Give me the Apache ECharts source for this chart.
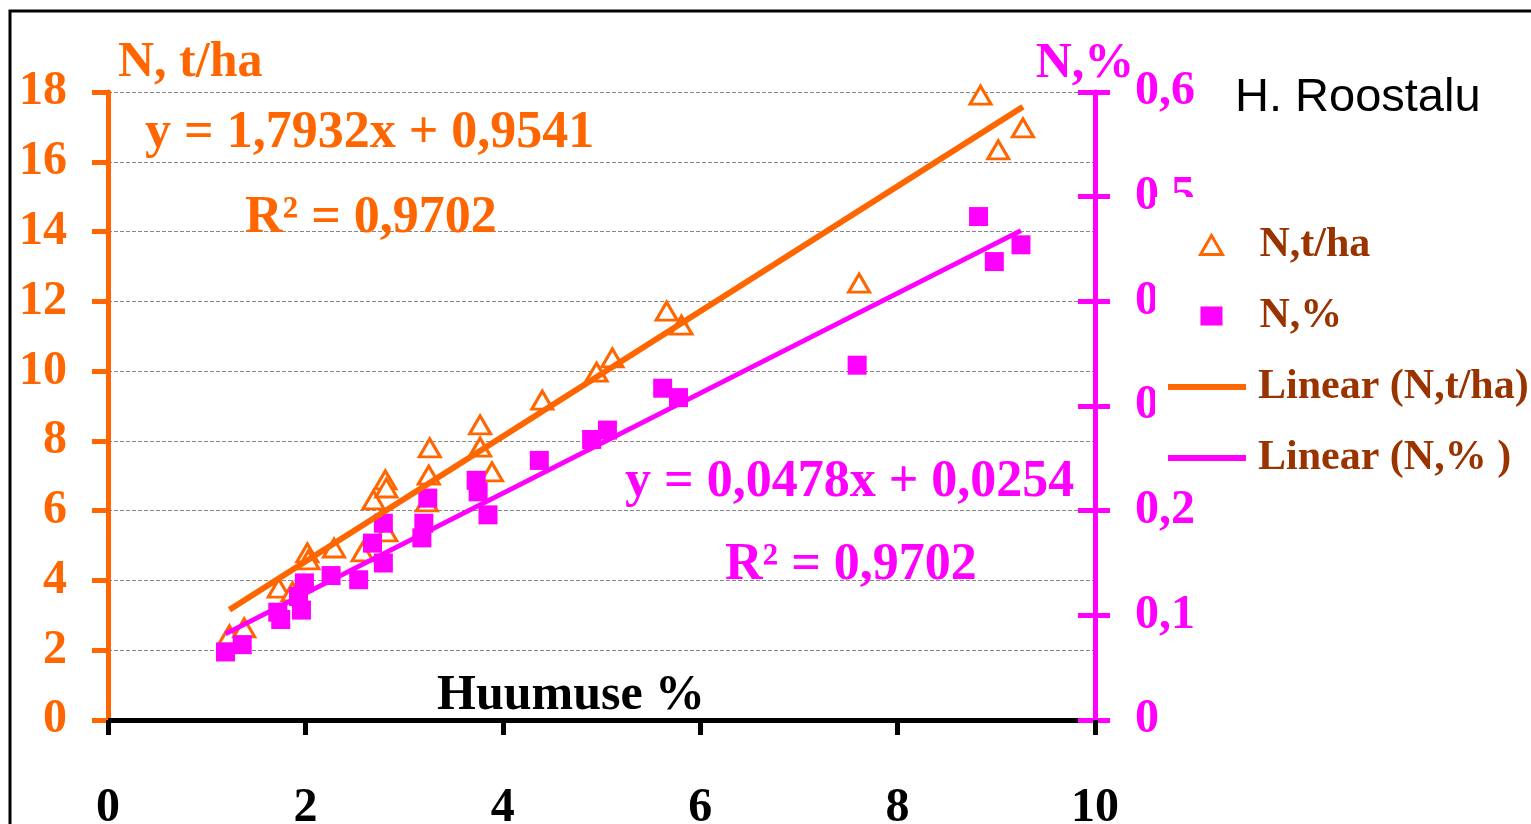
<!DOCTYPE html>
<html><head><meta charset="utf-8">
<script src="https://cdn.jsdelivr.net/npm/echarts@6/dist/echarts.min.js"></script>
<style>html,body{margin:0;padding:0;background:#fff}#c{width:1531px;height:824px}</style>
</head><body><div id="c"></div>
<script>
// Humus % (x) and N, t/ha (left axis) – triangles
const humusTha = [1.23,1.38,1.73,1.87,2.02,2.03,2.29,2.58,2.69,2.81,2.82,2.82,3.23,3.25,3.26,3.77,3.77,3.89,4.40,4.95,5.11,5.66,5.81,7.61,8.84,9.02,9.27];
const nTha     = [2.44,2.64,3.78,3.67,4.79,4.59,4.93,4.82,6.31,6.88,6.65,5.39,6.25,7.02,7.80,8.46,7.82,7.11,9.17,9.97,10.38,11.72,11.32,12.52,17.91,16.34,16.97];
// Humus % (x) and N, % (right axis) – squares
const humusPct = [1.19,1.36,1.72,1.75,1.93,1.96,1.99,2.26,2.54,2.68,2.79,2.79,3.18,3.20,3.24,3.73,3.75,3.85,4.37,4.90,5.06,5.62,5.78,7.59,8.82,8.98,9.25];
const nPct     = [0.065,0.072,0.103,0.096,0.118,0.105,0.131,0.138,0.134,0.169,0.188,0.150,0.174,0.188,0.212,0.229,0.218,0.196,0.248,0.268,0.277,0.317,0.308,0.339,0.481,0.438,0.454];
// Linear trend coefficients [slope, intercept]
const trendTha = [1.7932, 0.9541];
const trendPct = [0.0478, 0.0254];
const eqTha = ['y = 1,7932x + 0,9541', 'R² = 0,9702'];
const eqPct = ['y = 0,0478x + 0,0254', 'R² = 0,9702'];
const seriesNames = ['N,t/ha', 'N,%', 'Linear (N,t/ha)', 'Linear (N,% )'];
const axisNames = ['N, t/ha', 'N,%', 'Huumuse %'];
const author = 'H. Roostalu';
const xRange = [0, 10, 2];
const yLeftRange = [0, 18, 2];
const yRightRange = [0, 0.6, 0.1];

const ORANGE = '#FF6600', MAG = '#FF00FF', BROWN = '#993300';
const SERIF = '"Liberation Serif","Times New Roman",serif';
const SANS = '"Liberation Sans",Arial,sans-serif';

function trend(coef, xs) {
  const x0 = Math.min(...xs), x1 = Math.max(...xs);
  return [[x0, coef[0] * x0 + coef[1]], [x1, coef[0] * x1 + coef[1]]];
}
const pctFmt = v => (Math.abs(v) < 1e-9 ? '0' : v.toFixed(1).replace('.', ','));
const legendText = { color: BROWN, fontFamily: SERIF, fontWeight: 'bold', fontSize: 42, lineHeight: 44 };

const chart = echarts.init(document.getElementById('c'));
chart.setOption({
  animation: false,
  backgroundColor: '#fff',
  grid: { left: 108, right: 436, top: 92, bottom: 104, outerBoundsMode: 'none', containLabel: false },
  xAxis: {
    type: 'value', min: xRange[0], max: xRange[1], interval: xRange[2],
    axisLine: { lineStyle: { color: '#000', width: 5 } },
    axisTick: { length: 15, lineStyle: { color: '#000', width: 5 } },
    axisLabel: { margin: 65, color: '#000', fontSize: 48, fontWeight: 'bold', fontFamily: SERIF },
    splitLine: { show: false }
  },
  yAxis: [
    {
      type: 'value', position: 'left', min: yLeftRange[0], max: yLeftRange[1], interval: yLeftRange[2],
      name: axisNames[0], nameLocation: 'end', nameGap: 4, nameMoveOverlap: false,
      nameTextStyle: { color: ORANGE, fontSize: 50, fontWeight: 'bold', fontFamily: SERIF, align: 'left', padding: [0, 0, 0, 10] },
      axisLine: { show: true, lineStyle: { color: ORANGE, width: 5 } },
      axisTick: { show: true, length: 16, lineStyle: { color: ORANGE, width: 5 } },
      axisLabel: { margin: 41, color: ORANGE, fontSize: 48, fontWeight: 'bold', fontFamily: SERIF, padding: [12, 0, 0, 0] },
      splitLine: { show: true, lineStyle: { color: '#888', width: 1, type: [4, 2] } }
    },
    {
      type: 'value', position: 'right', min: yRightRange[0], max: yRightRange[1], interval: yRightRange[2],
      name: axisNames[1], nameLocation: 'end', nameGap: 3, nameMoveOverlap: false,
      nameTextStyle: { color: MAG, fontSize: 50, fontWeight: 'bold', fontFamily: SERIF, align: 'center', padding: [0, 20, 0, 0] },
      axisLine: { show: true, lineStyle: { color: MAG, width: 5 } },
      axisTick: { show: true, length: 15, lineStyle: { color: MAG, width: 5 } },
      axisLabel: { margin: 40, color: MAG, fontSize: 48, fontWeight: 'bold', fontFamily: SERIF, formatter: pctFmt, padding: [12, 0, 0, 0] },
      splitLine: { show: false }
    },
    {
      type: 'value', position: 'right', min: yRightRange[0], max: yRightRange[1], interval: yRightRange[2],
      axisLine: { show: false },
      axisTick: { show: true, inside: true, length: 17, lineStyle: { color: MAG, width: 5 } },
      axisLabel: { show: false },
      splitLine: { show: false }
    }
  ],
  legend: [
    {
      orient: 'vertical', left: 1155, top: 197,
      padding: [26, 0, 13, 44], itemGap: 27, itemWidth: 22, itemHeight: 19,
      backgroundColor: '#fff', selectedMode: false,
      textStyle: Object.assign({ padding: [0, 0, 0, 32] }, legendText),
      data: [
        { name: seriesNames[0], icon: 'triangle', itemStyle: { color: '#fff', borderColor: ORANGE, borderWidth: 3 } },
        { name: seriesNames[1], icon: 'rect', itemStyle: { color: MAG, borderWidth: 0 } }
      ]
    },
    {
      orient: 'vertical', left: 1155, top: 351,
      padding: [14, 0, 5, 13], itemGap: 27, itemWidth: 78, itemHeight: 6,
      backgroundColor: '#fff', selectedMode: false,
      textStyle: Object.assign({ padding: [0, 0, 0, 7] }, legendText),
      data: [
        { name: seriesNames[2], icon: 'rect', itemStyle: { color: ORANGE } },
        { name: seriesNames[3], icon: 'rect', itemStyle: { color: MAG } }
      ]
    }
  ],
  series: [
    {
      name: seriesNames[0], type: 'scatter', yAxisIndex: 0, z: 2,
      symbol: 'triangle', symbolSize: [21, 18],
      itemStyle: { color: '#fff', borderColor: ORANGE, borderWidth: 3, opacity: 1 },
      emphasis: { disabled: true },
      data: humusTha.map((x, i) => [x, nTha[i]])
    },
    {
      name: seriesNames[1], type: 'scatter', yAxisIndex: 1, z: 3,
      symbol: 'rect', symbolSize: 19,
      itemStyle: { color: MAG, opacity: 1 },
      emphasis: { disabled: true },
      data: humusPct.map((x, i) => [x, nPct[i]])
    },
    {
      name: seriesNames[2], type: 'line', yAxisIndex: 0, z: 4, symbol: 'none',
      color: ORANGE, lineStyle: { color: ORANGE, width: 6 },
      emphasis: { disabled: true },
      data: trend(trendTha, humusTha)
    },
    {
      name: seriesNames[3], type: 'line', yAxisIndex: 1, z: 4, symbol: 'none',
      color: MAG, lineStyle: { color: MAG, width: 5 },
      emphasis: { disabled: true },
      data: trend(trendPct, humusPct)
    }
  ],
  graphic: [
    { type: 'rect', z: 100, silent: true, shape: { x: 10, y: 11, width: 1600, height: 900 },
      style: { fill: 'none', stroke: '#000', lineWidth: 3 } },
    { type: 'text', z: 50, x: 145, y: 134, style: { text: eqTha[0], fill: ORANGE, font: 'bold 52px ' + SERIF, textAlign: 'left', textVerticalAlign: 'middle' } },
    { type: 'text', z: 50, x: 245, y: 219, style: { text: eqTha[1], fill: ORANGE, font: 'bold 52px ' + SERIF, textAlign: 'left', textVerticalAlign: 'middle' } },
    { type: 'text', z: 50, x: 625, y: 483, style: { text: eqPct[0], fill: MAG, font: 'bold 52px ' + SERIF, textAlign: 'left', textVerticalAlign: 'middle' } },
    { type: 'text', z: 50, x: 725, y: 566, style: { text: eqPct[1], fill: MAG, font: 'bold 52px ' + SERIF, textAlign: 'left', textVerticalAlign: 'middle' } },
    { type: 'text', z: 50, x: 437, y: 696, style: { text: axisNames[2], fill: '#000', font: 'bold 50px ' + SERIF, textAlign: 'left', textVerticalAlign: 'middle' } },
    { type: 'text', z: 50, x: 1235, y: 98, style: { text: author, fill: '#000', font: '47px ' + SANS, textAlign: 'left', textVerticalAlign: 'middle' } }
  ]
});
</script>
</body></html>
